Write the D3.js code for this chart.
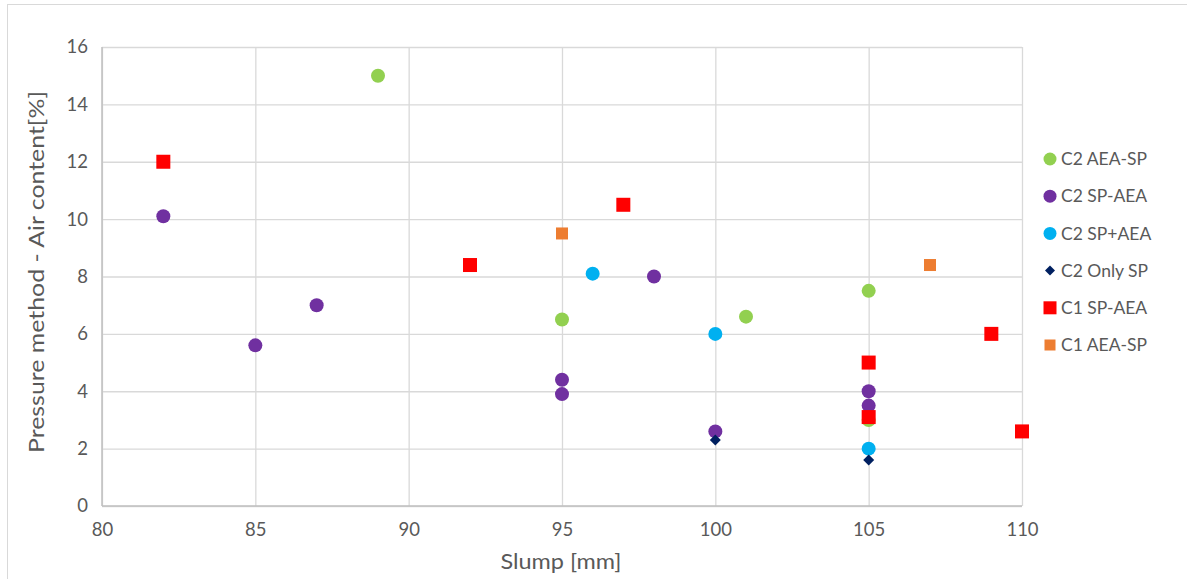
<!DOCTYPE html>
<html><head><meta charset="utf-8">
<script src="https://d3js.org/d3.v7.min.js"></script>
<style>body{margin:0;background:#fff}svg{display:block}</style>
</head><body>
<script>
const xTicks = [80, 85, 90, 95, 100, 105, 110];
const yTicks = [0, 2, 4, 6, 8, 10, 12, 14, 16];
const seriesNames = ["C2 AEA-SP", "C2 SP-AEA", "C2 SP+AEA", "C2 Only SP", "C1 SP-AEA", "C1 AEA-SP"];
const c2AeaSp = [[89,15],[95,6.5],[101,6.6],[105,7.5],[105,3.0]];
const c2SpAea = [[82,10.1],[85,5.6],[87,7.0],[95,4.4],[95,3.9],[98,8.0],[100,2.6],[105,4.0],[105,3.5]];
const c2SpPlusAea = [[96,8.1],[100,6.0],[105,2.0]];
const c2OnlySp = [[100,2.3],[105,1.6]];
const c1SpAea = [[82,12],[92,8.4],[97,10.5],[105,5.0],[105,3.1],[109,6.0],[110,2.6]];
const c1AeaSp = [[95,9.5],[107,8.4]];

const W = 1187, H = 579;
const m = {left: 102, right: 1022, top: 47, bottom: 506};
const font = "Lato, 'Open Sans', sans-serif";
const svg = d3.select("body").append("svg").attr("width", W).attr("height", H);
svg.append("rect").attr("x", 7.5).attr("y", 4.5).attr("width", W).attr("height", H)
  .attr("fill", "#fff").attr("stroke", "#D9D9D9");

const x = d3.scaleLinear().domain([80, 110]).range([m.left, m.right]);
const y = d3.scaleLinear().domain([0, 16]).range([m.bottom, m.top]);

const gx = svg.append("g").attr("transform", `translate(0,${m.bottom})`)
  .call(d3.axisBottom(x).tickValues(xTicks).tickSize(-(m.bottom - m.top)).tickPadding(17));
gx.select(".domain").remove();
gx.selectAll(".tick line").attr("stroke", "#D9D9D9").attr("stroke-width", 1.3);
gx.selectAll(".tick text").attr("fill", "#595959").attr("font-size", 18.5).attr("font-family", font);

const gy = svg.append("g").attr("transform", `translate(${m.left},0)`)
  .call(d3.axisLeft(y).tickValues(yTicks).tickSize(-(m.right - m.left)).tickPadding(14));
gy.select(".domain").remove();
gy.selectAll(".tick line").attr("stroke", "#D9D9D9").attr("stroke-width", 1.3);
gy.selectAll(".tick text").attr("fill", "#595959").attr("font-size", 18.5).attr("font-family", font);

svg.append("line").attr("x1", m.left).attr("x2", m.right).attr("y1", m.bottom).attr("y2", m.bottom)
  .attr("stroke", "#BFBFBF").attr("stroke-width", 1.5);
svg.append("line").attr("x1", m.left).attr("x2", m.left).attr("y1", m.top).attr("y2", m.bottom)
  .attr("stroke", "#BFBFBF").attr("stroke-width", 1.5);

svg.append("text").attr("x", 561).attr("y", 569).attr("text-anchor", "middle")
  .attr("fill", "#595959").attr("font-size", 21).attr("font-family", font)
  .attr("textLength", 121).attr("lengthAdjust", "spacingAndGlyphs").text("Slump [mm]");
svg.append("text").attr("transform", `translate(44,272) rotate(-90)`)
  .attr("text-anchor", "middle").attr("fill", "#595959").attr("font-size", 21).attr("font-family", font)
  .attr("textLength", 362).attr("lengthAdjust", "spacingAndGlyphs")
  .text("Pressure method - Air content[%]");

const styles = [
  {data: c2AeaSp, color: "#92D050", shape: "circle", size: 7},
  {data: c2SpAea, color: "#7030A0", shape: "circle", size: 7},
  {data: c2SpPlusAea, color: "#00B0F0", shape: "circle", size: 7},
  {data: c2OnlySp, color: "#002060", shape: "diamond", size: 5.5},
  {data: c1SpAea, color: "#FF0000", shape: "square", size: 7},
  {data: c1AeaSp, color: "#ED7D31", shape: "square", size: 6}
];
function drawMarker(g, s, cx, cy) {
  if (s.shape === "circle") g.append("circle").attr("cx", cx).attr("cy", cy).attr("r", s.size).attr("fill", s.color);
  else if (s.shape === "square") g.append("rect").attr("x", cx - s.size).attr("y", cy - s.size)
    .attr("width", 2 * s.size).attr("height", 2 * s.size).attr("fill", s.color);
  else g.append("path").attr("d", `M${cx},${cy - s.size}L${cx + s.size},${cy}L${cx},${cy + s.size}L${cx - s.size},${cy}Z`)
    .attr("fill", s.color);
}
const pts = svg.append("g");
styles.forEach(s => s.data.forEach(d => drawMarker(pts, s, x(d[0]), y(d[1]))));

const leg = svg.append("g");
const legY = d3.scalePoint().domain(seriesNames).range([159, 345]);
seriesNames.forEach((n, i) => {
  const s = styles[i];
  const ly = legY(n);
  const ls = Object.assign({}, s, {size: s.shape === "circle" ? 6.5 : s.shape === "diamond" ? 5 : (i === 4 ? 6.5 : 5.5)});
  drawMarker(leg, ls, 1050, ly);
  leg.append("text").attr("x", 1061).attr("y", ly).attr("dy", "0.35em").attr("fill", "#595959")
    .attr("font-size", 17.5).attr("font-family", font).text(n);
});
</script>
</body></html>
